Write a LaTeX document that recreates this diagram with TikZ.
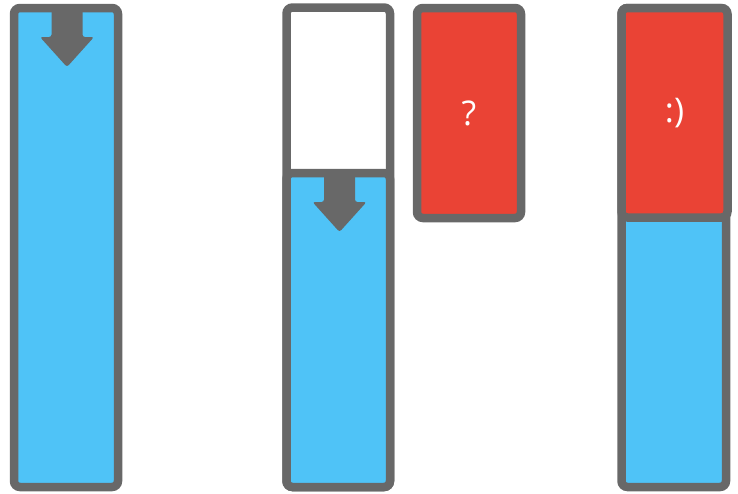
\documentclass[tikz,border=0pt]{standalone}
\usepackage{fontspec}
\setmainfont{Open Sans}
\definecolor{slotgray}{RGB}{104,104,104}
\definecolor{slotblue}{RGB}{79,195,247}
\definecolor{slotred}{RGB}{234,67,53}
\usetikzlibrary{positioning}

\begin{document}
\begin{tikzpicture}[
  x=1pt,y=-1pt,
  every node/.style={font=\fontsize{34}{40}\selectfont,text=white},
  slot/.style={draw=slotgray,line width=8.5pt,rounded corners=6pt,inner sep=0pt},
  pointer/.style={fill=slotgray,rounded corners=2.5pt},
]
  \useasboundingbox (0,0) rectangle (738,493);

  % Full bar
  \node[slot,fill=slotblue,minimum width=104pt,minimum height=479pt] (full) at (66,247.5) {};
  \fill[pointer] (51.5,8) -- (51.5,37) -- (40,37) -- (67,67) -- (94,37)
    -- (82.5,37) -- (82.5,8) -- cycle;

  % Half bar with a gap on top
  \node[slot,fill=white,minimum width=103.5pt,minimum height=479.5pt] (half) at (338.25,247.25) {};
  \node[slot,fill=slotblue,minimum width=103.5pt,minimum height=314pt] (halffill) at (338.25,330) {};
  \fill[pointer] (324,173) -- (324,202) -- (312.5,202) -- (339.5,232) -- (366.5,202)
    -- (355,202) -- (355,173) -- cycle;

  % Block that does not fit yet
  \node[slot,fill=slotred,minimum width=104pt,minimum height=210pt] (guess) at (469,113) {?};

  % Bar with the block fitted in
  \node[slot,fill=slotblue,minimum width=104.5pt,minimum height=479pt] (fitted) at (673.75,247.5) {};
  \node[slot,fill=slotred,minimum width=106pt,minimum height=209.5pt] (smile) at (674.5,112.75) {:)};
\end{tikzpicture}
\end{document}
